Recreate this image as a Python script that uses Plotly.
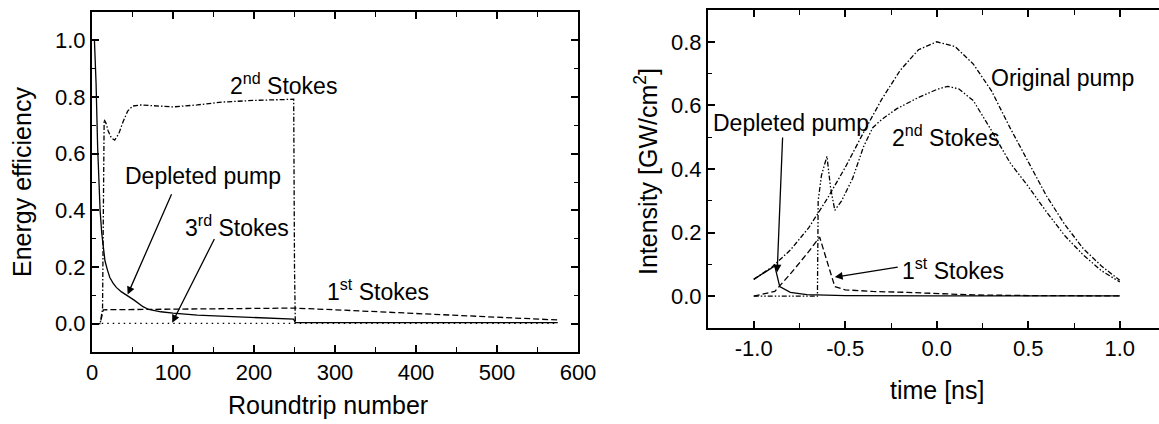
import plotly.graph_objects as go

# ---------------- Left panel data ----------------
rt_pump = [3, 5, 7, 9, 10, 12, 14, 16, 19, 22, 26, 30, 36, 44, 52, 63, 70, 85, 100, 130, 160, 200, 232, 249, 251, 575]
eff_pump = [1.0, 0.85, 0.62, 0.47, 0.40, 0.32, 0.27, 0.222, 0.19, 0.163, 0.143, 0.128, 0.113, 0.099, 0.083, 0.060, 0.050,
            0.042, 0.037, 0.030, 0.026, 0.022, 0.018, 0.016, 0.004, 0.004]

rt_s2 = [3, 10, 13, 14, 15, 17, 20, 24, 28, 33, 38, 44, 50, 60, 80, 100, 130, 160, 200, 249, 250, 251]
eff_s2 = [0.0, 0.0, 0.05, 0.40, 0.72, 0.71, 0.68, 0.655, 0.648, 0.67, 0.71, 0.75, 0.768, 0.772, 0.768, 0.765, 0.772,
          0.782, 0.788, 0.792, 0.20, 0.004]

rt_s1 = [3, 10, 14, 50, 100, 150, 200, 250, 300, 350, 400, 450, 500, 575]
eff_s1 = [0.0, 0.0, 0.049, 0.050, 0.051, 0.052, 0.054, 0.055, 0.049, 0.042, 0.035, 0.028, 0.021, 0.013]

rt_s3 = [12, 575]
eff_s3 = [0.001, 0.001]

left_xticks = [0, 100, 200, 300, 400, 500, 600]
left_yticks = [0.0, 0.2, 0.4, 0.6, 0.8, 1.0]

# ---------------- Right panel data ----------------
t_orig = [-1.0, -0.9, -0.8, -0.7, -0.6, -0.5, -0.4, -0.3, -0.2, -0.1, 0.0, 0.1, 0.2, 0.3, 0.4, 0.5, 0.6, 0.7, 0.8, 0.9, 1.0]
i_orig = [0.053, 0.092, 0.145, 0.215, 0.305, 0.405, 0.515, 0.62, 0.71, 0.775, 0.80, 0.785, 0.73, 0.645, 0.53, 0.42,
          0.315, 0.225, 0.15, 0.095, 0.05]

t_s2 = [-1.0, -0.652, -0.648, -0.63, -0.60, -0.58, -0.557, -0.52, -0.46, -0.40, -0.35, -0.30, -0.22, -0.10, 0.0, 0.06,
        0.12, 0.2, 0.3, 0.4, 0.5, 0.6, 0.7, 0.8, 0.9, 1.0]
i_s2 = [0.0, 0.0, 0.30, 0.38, 0.44, 0.34, 0.27, 0.30, 0.37, 0.47, 0.53, 0.556, 0.589, 0.625, 0.65, 0.66, 0.652, 0.615,
        0.52, 0.42, 0.345, 0.265, 0.19, 0.13, 0.08, 0.045]

t_s1 = [-1.0, -0.885, -0.8, -0.7, -0.64, -0.6, -0.557, -0.5, -0.35, -0.16, 0.0, 0.2, 0.5, 1.0]
i_s1 = [0.0, 0.015, 0.07, 0.14, 0.186, 0.11, 0.03, 0.02, 0.015, 0.012, 0.008, 0.004, 0.002, 0.001]

t_dep = [-1.0, -0.95, -0.885, -0.858, -0.80, -0.71, -0.5, 0.0, 1.0]
i_dep = [0.053, 0.072, 0.095, 0.03, 0.012, 0.005, 0.002, 0.001, 0.001]

right_xticks = [-1.0, -0.5, 0.0, 0.5, 1.0]
right_xlabels = ["-1.0", "-0.5", "0.0", "0.5", "1.0"]
right_yticks = [0.0, 0.2, 0.4, 0.6, 0.8]

FONT = "Liberation Sans, Arial, sans-serif"
BLACK = "black"
DASHDOT = "5px,2px,1.5px,2px"
DASHDOTDOT = "5px,2px,1.5px,2px,1.5px,2px"

fig = go.Figure()

def line(x, y, dash, xa, ya, width=1.3):
    fig.add_trace(go.Scatter(x=x, y=y, mode="lines", xaxis=xa, yaxis=ya,
                             line=dict(color=BLACK, width=width, dash=dash), showlegend=False,
                             hoverinfo="skip"))

# left
line(rt_s3, eff_s3, "1.5px,4px", "x", "y")
line(rt_s1, eff_s1, "6px,3px", "x", "y")
line(rt_s2, eff_s2, DASHDOT, "x", "y")
line(rt_pump, eff_pump, "solid", "x", "y")
# right
line(t_s1, i_s1, "6px,3px", "x2", "y2")
line(t_orig, i_orig, DASHDOT, "x2", "y2")
line(t_s2, i_s2, DASHDOTDOT, "x2", "y2")
line(t_dep, i_dep, "solid", "x2", "y2")

W, H = 1159, 424
L1, R1, T1, B1 = 92, 578, 12, 352
L2, R2, T2, B2 = 708, 1159, 10, 328

axis_common = dict(showline=True, linecolor=BLACK, linewidth=2, ticks="inside", ticklen=7, tickwidth=1.5,
                   tickcolor=BLACK, showgrid=False, zeroline=False, automargin=False,
                   tickfont=dict(family=FONT, size=22, color=BLACK))

fig.update_layout(
    template="none",
    width=W, height=H, margin=dict(l=0, r=0, t=0, b=0, pad=0, autoexpand=False),
    paper_bgcolor="white", plot_bgcolor="white",
    xaxis=dict(domain=[L1 / W, R1 / W], range=[0, 600], anchor="y", tickvals=left_xticks, mirror="allticks",
               minor=dict(dtick=50, ticks="inside", ticklen=5, tickcolor=BLACK, tickwidth=1.2),
               **axis_common),
    yaxis=dict(domain=[(H - B1) / H, (H - T1) / H], range=[-0.1, 1.1], anchor="x", tickvals=left_yticks,
               tickformat=".1f", mirror="allticks",
               minor=dict(dtick=0.1, ticks="inside", ticklen=4, tickcolor=BLACK, tickwidth=1.2),
               **axis_common),
    xaxis2=dict(domain=[L2 / W, 1.0], range=[-1.25, -1.25 + (R2 - L2) / 183.0], anchor="y2",
                tickvals=right_xticks, ticktext=right_xlabels, mirror="allticks",
                minor=dict(dtick=0.25, ticks="inside", ticklen=5, tickcolor=BLACK, tickwidth=1.2),
                **axis_common),
    yaxis2=dict(domain=[(H - B2) / H, (H - T2) / H], range=[-0.1, 0.9], anchor="x2", tickvals=right_yticks,
                tickformat=".1f", mirror=False,
                minor=dict(dtick=0.1, ticks="inside", ticklen=4, tickcolor=BLACK, tickwidth=1.2),
                **axis_common),
)

ann_font = dict(family=FONT, size=23, color=BLACK)
title_font = dict(family=FONT, size=25, color=BLACK)
C = dict(xanchor="center", yanchor="middle")

annotations = [
    # left panel labels
    dict(x=237, y=0.845, xref="x", yref="y", text="2<sup>nd</sup> Stokes", showarrow=False, font=ann_font, **C),
    dict(x=137, y=0.52, xref="x", yref="y", text="Depleted pump", showarrow=False, font=ann_font, **C),
    dict(x=179, y=0.345, xref="x", yref="y", text="3<sup>rd</sup> Stokes", showarrow=False, font=ann_font, **C),
    dict(x=353, y=0.12, xref="x", yref="y", text="1<sup>st</sup> Stokes", showarrow=False, font=ann_font, **C),
    # left arrows
    dict(x=44, y=0.103, xref="x", yref="y", ax=99, ay=0.462, axref="x", ayref="y", text="", showarrow=True,
         arrowhead=2, arrowsize=1.2, arrowwidth=1.3, arrowcolor=BLACK),
    dict(x=99, y=0.003, xref="x", yref="y", ax=152, ay=0.304, axref="x", ayref="y", text="", showarrow=True,
         arrowhead=2, arrowsize=1.2, arrowwidth=1.3, arrowcolor=BLACK),
    # right panel labels
    dict(x=0.689, y=0.685, xref="x2", yref="y2", text="Original pump", showarrow=False, font=ann_font, **C),
    dict(x=0.049, y=0.505, xref="x2", yref="y2", text="2<sup>nd</sup> Stokes", showarrow=False, font=ann_font, **C),
    dict(x=-0.798, y=0.545, xref="x2", yref="y2", text="Depleted pump", showarrow=False, font=ann_font, **C),
    dict(x=-0.202, y=0.085, xref="x2", yref="y2", text="1<sup>st</sup> Stokes", showarrow=False, font=ann_font,
         xanchor="left", yanchor="middle"),
    # right arrows
    dict(x=-0.872, y=0.075, xref="x2", yref="y2", ax=-0.842, ay=0.504, axref="x2", ayref="y2", text="",
         showarrow=True, arrowhead=2, arrowsize=1.2, arrowwidth=1.3, arrowcolor=BLACK),
    dict(x=-0.557, y=0.06, xref="x2", yref="y2", ax=-0.205, ay=0.092, axref="x2", ayref="y2", text="",
         showarrow=True, arrowhead=2, arrowsize=1.2, arrowwidth=1.3, arrowcolor=BLACK),
    # axis titles
    dict(x=22 / W, y=(H - 182) / H, xref="paper", yref="paper", text="Energy efficiency", textangle=-90,
         showarrow=False, font=title_font, **C),
    dict(x=328 / W, y=(H - 405) / H, xref="paper", yref="paper", text="Roundtrip number",
         showarrow=False, font=title_font, **C),
    dict(x=646 / W, y=(H - 172) / H, xref="paper", yref="paper", text="Intensity [GW/cm<sup>2</sup>]",
         textangle=-90, showarrow=False, font=title_font, **C),
    dict(x=937 / W, y=(H - 390) / H, xref="paper", yref="paper", text="time [ns]",
         showarrow=False, font=title_font, **C),
]
fig.update_layout(annotations=annotations)

fig.write_html("out.html")
